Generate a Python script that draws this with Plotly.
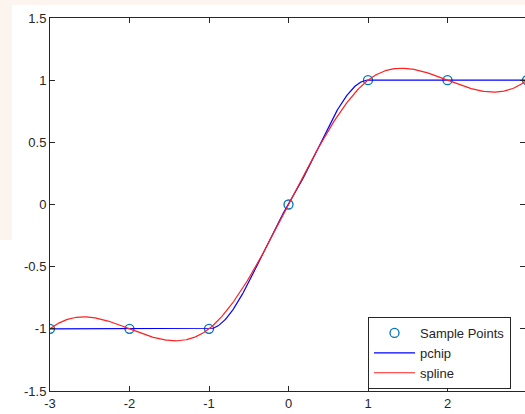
import numpy as np
import plotly.graph_objects as go

# Sample points
x_samples = [-3, -2, -1, 0, 1, 2, 3]
y_samples = [-1, -1, -1, 0, 1, 1, 1]

x_ticks = [-3, -2, -1, 0, 1, 2, 3]
x_ticktext = ["-3", "-2", "-1", "0", "1", "2", "3"]
y_ticks = [-1.5, -1, -0.5, 0, 0.5, 1, 1.5]
y_ticktext = ["-1.5", "-1", "-0.5", "0", "0.5", "1", "1.5"]

xs = np.asarray(x_samples, float)
ys = np.asarray(y_samples, float)
xq = np.linspace(xs[0], xs[-1], 601)


def pchip_eval(x, y, xq):
    h = np.diff(x)
    d = np.diff(y) / h
    n = len(x)
    m = np.zeros(n)
    for k in range(1, n - 1):
        if d[k - 1] * d[k] > 0:
            w1 = 2 * h[k] + h[k - 1]
            w2 = h[k] + 2 * h[k - 1]
            m[k] = (w1 + w2) / (w1 / d[k - 1] + w2 / d[k])
    def endslope(h0, h1, d0, d1):
        s = ((2 * h0 + h1) * d0 - h0 * d1) / (h0 + h1)
        if np.sign(s) != np.sign(d0):
            s = 0.0
        elif np.sign(d0) != np.sign(d1) and abs(s) > abs(3 * d0):
            s = 3 * d0
        return s
    m[0] = endslope(h[0], h[1], d[0], d[1])
    m[-1] = endslope(h[-1], h[-2], d[-1], d[-2])
    idx = np.clip(np.searchsorted(x, xq) - 1, 0, n - 2)
    t = (xq - x[idx]) / h[idx]
    h00 = 2 * t**3 - 3 * t**2 + 1
    h10 = t**3 - 2 * t**2 + t
    h01 = -2 * t**3 + 3 * t**2
    h11 = t**3 - t**2
    return h00 * y[idx] + h10 * h[idx] * m[idx] + h01 * y[idx + 1] + h11 * h[idx] * m[idx + 1]


def spline_eval(x, y, xq):
    # not-a-knot cubic spline via second derivatives
    n = len(x)
    h = np.diff(x)
    A = np.zeros((n, n))
    b = np.zeros(n)
    for i in range(1, n - 1):
        A[i, i - 1] = h[i - 1]
        A[i, i] = 2 * (h[i - 1] + h[i])
        A[i, i + 1] = h[i]
        b[i] = 6 * ((y[i + 1] - y[i]) / h[i] - (y[i] - y[i - 1]) / h[i - 1])
    A[0, 0] = h[1]; A[0, 1] = -(h[0] + h[1]); A[0, 2] = h[0]
    A[-1, -3] = h[-1]; A[-1, -2] = -(h[-2] + h[-1]); A[-1, -1] = h[-2]
    M = np.linalg.solve(A, b)
    idx = np.clip(np.searchsorted(x, xq) - 1, 0, n - 2)
    hi = h[idx]
    a = x[idx + 1] - xq
    c = xq - x[idx]
    return (M[idx] * a**3 / (6 * hi) + M[idx + 1] * c**3 / (6 * hi)
            + (y[idx] / hi - M[idx] * hi / 6) * a
            + (y[idx + 1] / hi - M[idx + 1] * hi / 6) * c)


y_pchip = pchip_eval(xs, ys, xq)
y_spline = spline_eval(xs, ys, xq)

axis_color = "#262626"
font = dict(family="Liberation Sans, Arial, sans-serif", size=13, color=axis_color)

fig = go.Figure()
fig.add_trace(go.Scatter(
    x=x_samples, y=y_samples, mode="markers", name="Sample Points",
    marker=dict(symbol="circle-open", size=9, color="#0072BD", line=dict(width=1.3, color="#0072BD")),
))
fig.add_trace(go.Scatter(
    x=xq, y=y_pchip, mode="lines", name="pchip",
    line=dict(color="#0000FF", width=1.2),
))
fig.add_trace(go.Scatter(
    x=xq, y=y_spline, mode="lines", name="spline",
    line=dict(color="#FF2020", width=1.2),
))

W, H = 525, 414
ml, mr, mt, mb = 50, 0, 18, 23
pw, ph = W - ml - mr, H - mt - mb

def px_x(p):
    return (p - ml) / pw

def px_y(p):
    return (H - mb - p) / ph

bg = "#fcf5ef"
shapes = [
    dict(type="rect", xref="paper", yref="paper", layer="below",
         x0=px_x(0), x1=px_x(W), y0=px_y(0), y1=px_y(5),
         fillcolor=bg, line=dict(width=0)),
    dict(type="rect", xref="paper", yref="paper", layer="below",
         x0=px_x(0), x1=px_x(12), y0=px_y(0), y1=px_y(240),
         fillcolor=bg, line=dict(width=0)),
]

axis_common = dict(
    showgrid=False, zeroline=False, showline=True, linecolor=axis_color, linewidth=1,
    ticks="inside", ticklen=5, tickcolor=axis_color, tickwidth=1, mirror="ticks",
    tickfont=font, automargin=False,
)

fig.update_layout(
    width=W, height=H,
    margin=dict(l=ml, r=mr, t=mt, b=mb, pad=0, autoexpand=False),
    paper_bgcolor="white", plot_bgcolor="white",
    font=font,
    shapes=shapes,
    showlegend=True,
    legend=dict(
        x=px_x(368), y=px_y(317), xanchor="left", yanchor="top",
        bordercolor=axis_color, borderwidth=1, bgcolor="white",
        font=font, tracegroupgap=0, itemwidth=41,
    ),
    xaxis=dict(range=[-3, -3 + pw / 79.5], tickvals=x_ticks, ticktext=x_ticktext, **axis_common),
    yaxis=dict(range=[-1.5, 1.5], tickvals=y_ticks, ticktext=y_ticktext, **axis_common),
)

fig.write_html(
    "out.html",
    config={"displayModeBar": False},
    post_script="document.body.style.margin='0';document.body.style.padding='0';document.body.style.overflow='hidden';",
)
